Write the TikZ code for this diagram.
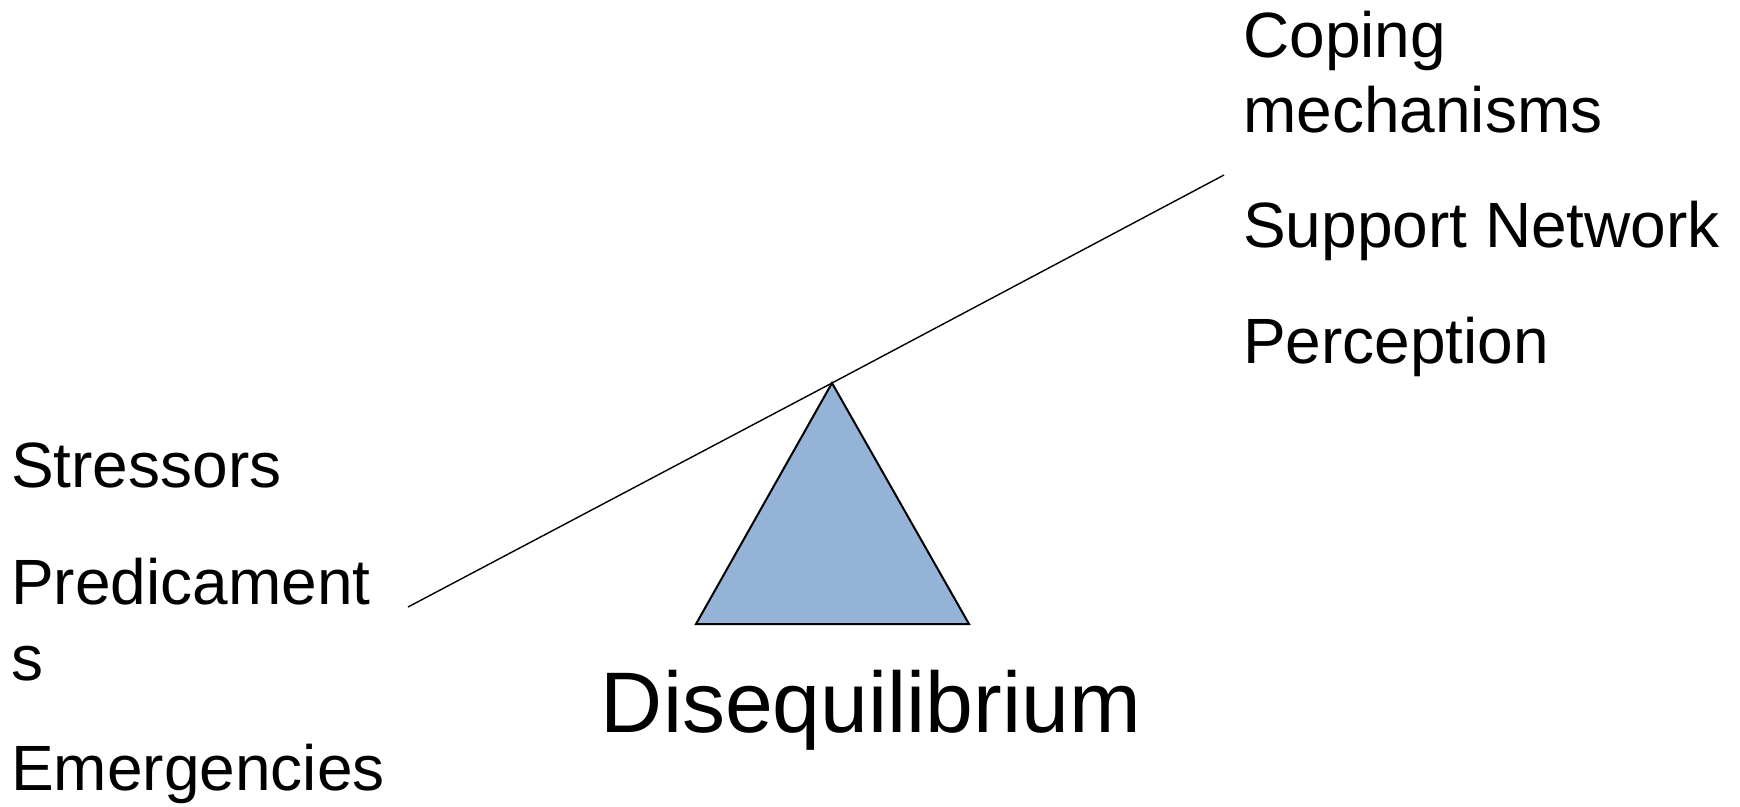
\documentclass[tikz,border=0pt]{standalone}
\usepackage{fontspec}
\setmainfont{Liberation Sans}
\usepackage{tikz}
\definecolor{fulcrum}{HTML}{95B3D7}

\begin{document}
\begin{tikzpicture}[
    x=1pt, y=-1pt,
    item/.style={anchor=base west, inner sep=0pt, align=left, font=\fontsize{64}{76}\selectfont},
    title/.style={anchor=base, inner sep=0pt, font=\fontsize{86}{100}\selectfont},
    beam/.style={line width=1.4pt, black},
    pivot/.style={line width=2pt, draw=black, fill=fulcrum, line join=miter}
]
\useasboundingbox (0,0) rectangle (1740,806);

% Seesaw
\coordinate (apex) at (832,383);
\coordinate (baseL) at (696,624);
\coordinate (baseR) at (969,624);
\coordinate (beamL) at (408,607);
\coordinate (beamR) at (1224,175);

\draw[pivot] (apex) -- (baseR) -- (baseL) -- cycle;
\draw[beam] (beamL) -- (apex) -- (beamR);

% Left side (base = last line)
\node[item] (stress) at (11,487) {Stressors};
\node[item] (predic) at (11,680) {Predicament\\s};
\node[item] (emerg) at (11,790) {Emergencies};

% Right side
\node[item, font=\fontsize{64}{75}\selectfont] (coping) at (1243,132) {Coping\\mechanisms};
\node[item] (support) at (1243,247) {Support Network};
\node[item] (percep) at (1243,363) {Perception};

% Caption
\node[title] (diseq) at (871,732) {Disequilibrium};

\end{tikzpicture}
\end{document}
